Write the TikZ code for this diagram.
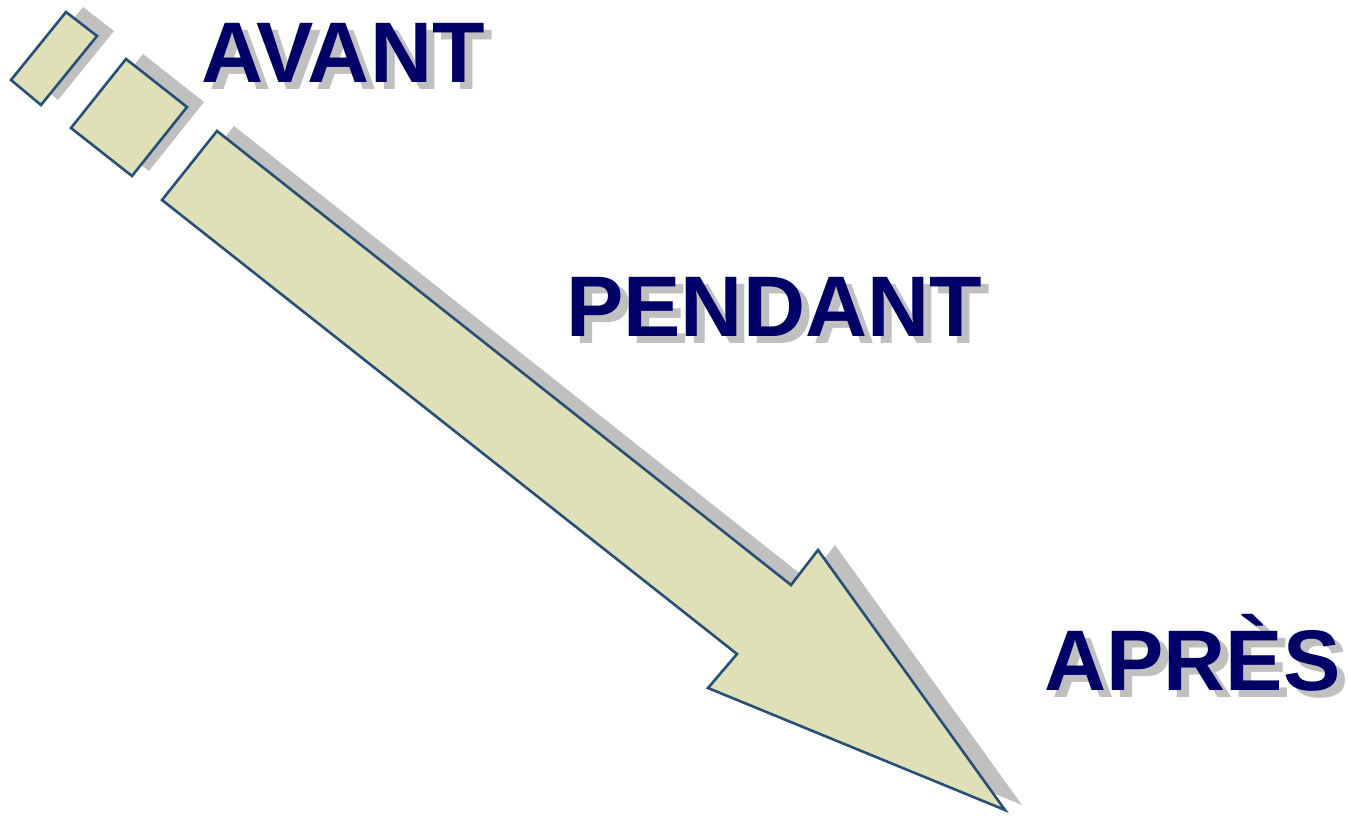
\documentclass[tikz,border=0pt]{standalone}
\usepackage{fontspec}
\setmainfont{Liberation Sans}
\definecolor{shapefill}{RGB}{223,224,184}
\definecolor{shapeline}{RGB}{40,80,118}
\definecolor{shadowgray}{RGB}{192,192,192}
\definecolor{textnavy}{RGB}{0,0,102}
\newcommand{\shadowtext}[1]{\rlap{\hspace{8pt}\raisebox{-7pt}{\textcolor{shadowgray}{#1}}}#1}
\tikzset{
  shapebox/.style={fill=shapefill, draw=shapeline, line width=2.6pt, line join=miter},
  shapeshadow/.style={fill=shadowgray, draw=none},
  label/.style={inner sep=0pt, anchor=base west, text=textnavy, font=\fontsize{86}{86}\selectfont\bfseries},
}
\begin{document}
\begin{tikzpicture}[x=1pt,y=-1pt]
\useasboundingbox (0,0) rectangle (1348,815);
% shadows
\begin{scope}[shift={(17,-5)}]
  \fill[shapeshadow] (66,12) -- (97,36) -- (41,105) -- (11,80) -- cycle;
  \fill[shapeshadow] (126,59) -- (187,107) -- (132,176) -- (71,128) -- cycle;
  \fill[shapeshadow] (217,131) -- (791,585) -- (818,550) -- (1005,810) -- (708,688) -- (737,654) -- (162,200) -- cycle;
\end{scope}
% shapes
\draw[shapebox] (66,12) -- (97,36) -- (41,105) -- (11,80) -- cycle;
\draw[shapebox] (126,59) -- (187,107) -- (132,176) -- (71,128) -- cycle;
\draw[shapebox] (217,131) -- (791,585) -- (818,550) -- (1005,810) -- (708,688) -- (737,654) -- (162,200) -- cycle;
% texts
\node[label] (avant) at (201,82) {\shadowtext{AVANT}};
\node[label] (pendant) at (566,336) {\shadowtext{PENDANT}};
\node[label] (apres) at (1044,690) {\shadowtext{APRÈS}};
\end{tikzpicture}
\end{document}
